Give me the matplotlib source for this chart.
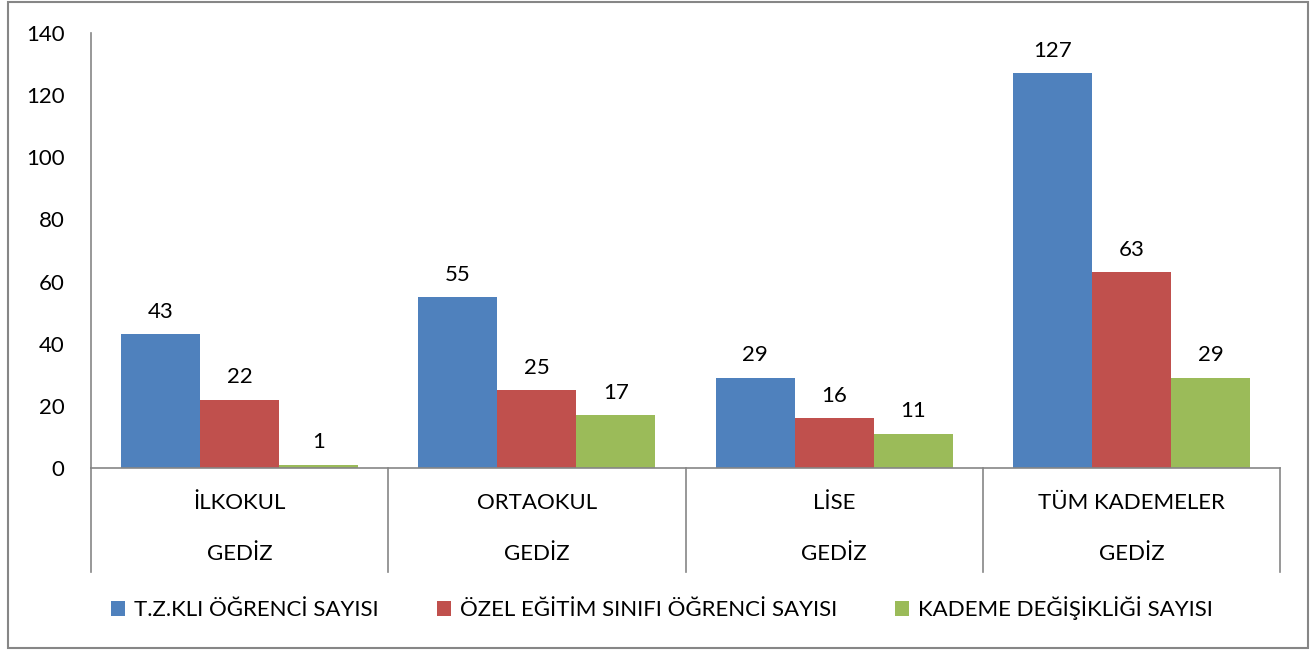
import matplotlib.pyplot as plt
import matplotlib.patches as patches
from matplotlib.transforms import blended_transform_factory
import numpy as np

plt.rcParams['font.family'] = ['Lato', 'DejaVu Sans']

# Data
categories = ['İLKOKUL', 'ORTAOKUL', 'LİSE', 'TÜM KADEMELER']
region = 'GEDİZ'
series_names = ['T.Z.KLI ÖĞRENCİ SAYISI', 'ÖZEL EĞİTİM SINIFI ÖĞRENCİ SAYISI',
                'KADEME DEĞİŞİKLİĞİ SAYISI']
tzkli = [43, 55, 29, 127]
ozel_egitim = [22, 25, 16, 63]
kademe = [1, 17, 11, 29]
colors = ['#4F81BD', '#C0504D', '#9BBB59']

W, H = 1316, 650
fs = 16
fig = plt.figure(figsize=(W / 100, H / 100), dpi=100)
fig.patch.set_facecolor('white')

# Outer chart border
fig.add_artist(patches.Rectangle((8 / W, 2 / H), 1300 / W, 646 / H,
                                 transform=fig.transFigure, fill=False,
                                 edgecolor='#868686', linewidth=1.5))

ax = fig.add_axes([91 / W, (H - 468) / H, (1280 - 91) / W, (468 - 33) / H])

n = len(categories)
bw = 0.266
x = np.arange(n) + 0.5
for k, (vals, name) in enumerate(zip([tzkli, ozel_egitim, kademe], series_names)):
    pos = x + (k - 1) * bw
    bars = ax.bar(pos, vals, width=bw, color=colors[k], label=name)
    for b, v in zip(bars, vals):
        ax.annotate(str(v), (b.get_x() + b.get_width() / 2, v),
                    xytext=(0, 9), textcoords='offset points',
                    ha='center', va='bottom', fontsize=fs, color='black')

ax.set_xlim(0, n)
ax.set_ylim(0, 140)
ax.set_yticks(range(0, 141, 20))
ax.set_xticks([])
ax.tick_params(axis='y', length=0, pad=19, labelsize=fs)
for s in ['top', 'right']:
    ax.spines[s].set_visible(False)
for s in ['left', 'bottom']:
    ax.spines[s].set_color('#868686')
    ax.spines[s].set_linewidth(1.2)

# Category axis with separators and two label rows
trans = blended_transform_factory(ax.transData, ax.transAxes)
sep_bottom = -(572 - 468) / 435
for b in range(n + 1):
    ax.plot([b, b], [0, sep_bottom], transform=trans, clip_on=False,
            color='#868686', linewidth=1.2)
for i, cat in enumerate(categories):
    ax.text(i + 0.5, -35 / 435, cat, transform=trans, ha='center', va='center',
            fontsize=fs)
    ax.text(i + 0.5, -86 / 435, region, transform=trans, ha='center', va='center',
            fontsize=fs)

fig.legend(loc='center', bbox_to_anchor=(662 / W, 1 - 608 / H), ncol=3,
           frameon=False, fontsize=fs, handlelength=0.65, handleheight=0.65,
           handletextpad=0.4, columnspacing=2.6)

fig.savefig('out.png', dpi=100)
